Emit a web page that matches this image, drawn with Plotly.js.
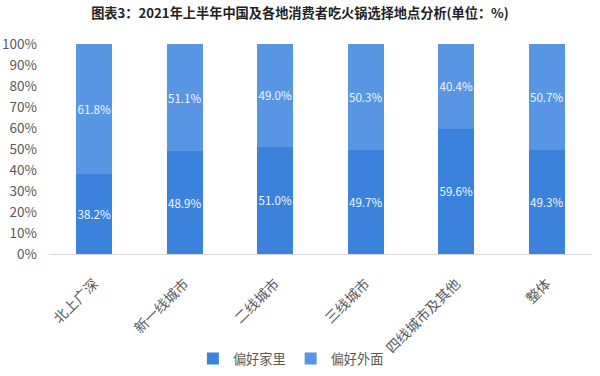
<!DOCTYPE html>
<html><head><meta charset="utf-8">
<script src="https://cdn.plot.ly/plotly-3.0.1.min.js"></script>
<style>body{margin:0;background:#fff}#c{width:600px;height:376px}</style>
</head><body><div id="c"></div>
<script>
var categories = ['北上广深','新一线城市','二线城市','三线城市','四线城市及其他','整体'];
var homeValues = [38.2, 48.9, 51.0, 49.7, 59.6, 49.3];
var outValues = [61.8, 51.1, 49.0, 50.3, 40.4, 50.7];
var seriesNames = ['偏好家里','偏好外面'];
var yTickVals = [0,10,20,30,40,50,60,70,80,90,100];
var yTickText = yTickVals.map(function(v){return v+'%';});

function lbl(arr){return arr.map(function(v){return v.toFixed(1)+'%';});}
var font = '"Microsoft YaHei","Noto Sans CJK SC",sans-serif';
var traces = [
 {type:'bar', name:seriesNames[0], x:categories, y:homeValues, text:lbl(homeValues),
  textposition:'inside', insidetextanchor:'middle', textangle:0, constraintext:'none',
  textfont:{color:'#f4f8fd', size:11.6, family:font},
  marker:{color:'#3b82dc'}, hoverinfo:'none'},
 {type:'bar', name:seriesNames[1], x:categories, y:outValues, text:lbl(outValues),
  textposition:'inside', insidetextanchor:'middle', textangle:0, constraintext:'none',
  textfont:{color:'#f4f8fd', size:11.6, family:font},
  marker:{color:'#5896e4'}, hoverinfo:'none'}
];
var layout = {
 width:600, height:376, barmode:'stack', bargap:0.6,
 paper_bgcolor:'#fff', plot_bgcolor:'#fff',
 margin:{l:49, r:8, t:44, b:122, autoexpand:false},
 font:{family:font, color:'#595959', size:13.5},
 title:{text:'<b>图表3：2021年上半年中国及各地消费者吃火锅选择地点分析(单位：%)</b>',
   x:0.5, xanchor:'center', y:0.965, yanchor:'middle', font:{size:13.2, color:'#222', family:font}},
 xaxis:{tickangle:-45, showline:true, linecolor:'#d9d9d9', linewidth:1, ticks:'', ticklabelstandoff:15,
   automargin:false, tickfont:{size:14, color:'#595959'}, fixedrange:true},
 yaxis:{range:[0,100], tickvals:yTickVals, ticktext:yTickText, showgrid:false, zeroline:false,
   automargin:false, showline:false, ticks:'', ticklabelstandoff:11, tickfont:{size:13.5, color:'#595959'}, fixedrange:true},
 showlegend:true,
 legend:{orientation:'h', x:0.265, xanchor:'left', y:-0.5, yanchor:'middle', bgcolor:'rgba(0,0,0,0)',
   font:{size:13.2, color:'#595959'}, itemwidth:30, traceorder:'normal'},
 uniformtext:{mode:false}
};
Plotly.newPlot('c', traces, layout, {displayModeBar:false, staticPlot:true});
</script></body></html>
